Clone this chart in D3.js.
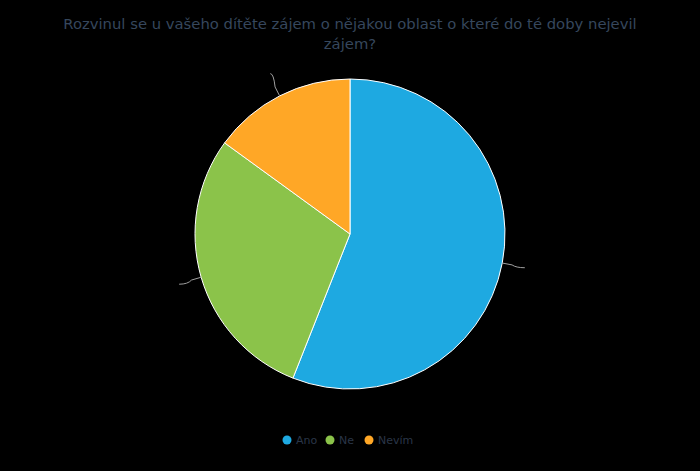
<!DOCTYPE html>
<html>
<head>
<meta charset="utf-8">
<script src="https://cdn.jsdelivr.net/npm/d3@7"></script>
<style>
  html, body { margin: 0; padding: 0; background: #000; }
  svg { display: block; font-family: "DejaVu Sans", sans-serif; }
</style>
</head>
<body>
<svg id="chart" width="700" height="471"></svg>
<script>
// data
var titleLines = ["Rozvinul se u vašeho dítěte zájem o nějakou oblast o které do té doby nejevil", "zájem?"]
var categories = ["Ano", "Ne", "Nevím"]
var values = [56, 29, 15]
var colors = ["#1EA9E1", "#8BC34A", "#FFA726"]

var width = 700, height = 471
var cx = 350, cy = 234, radius = 155

var svg = d3.select("#chart")

svg.append("rect")
  .attr("width", width)
  .attr("height", height)
  .attr("fill", "#000")

// title
svg.selectAll("text.title")
  .data(titleLines)
  .enter()
  .append("text")
    .attr("class", "title")
    .attr("x", width / 2)
    .attr("y", function(d, i){ return 29 + i * 20 })
    .attr("text-anchor", "middle")
    .style("font-size", "14.8px")
    .style("fill", "#36475D")
    .text(function(d){ return d })

var color = d3.scaleOrdinal()
  .domain(categories)
  .range(colors)

var pie = d3.pie()
  .sort(null)
  .value(function(d){ return d.value })

var data = categories.map(function(c, i){ return { name: c, value: values[i] } })
var arcs = pie(data)

var arc = d3.arc()
  .innerRadius(0)
  .outerRadius(radius)

var g = svg.append("g")
  .attr("transform", "translate(" + cx + "," + cy + ")")

g.selectAll("path.slice")
  .data(arcs)
  .enter()
  .append("path")
    .attr("class", "slice")
    .attr("d", arc)
    .attr("fill", function(d){ return color(d.data.name) })
    .attr("stroke", "#fff")
    .attr("stroke-width", 1)

// connectors (labels themselves are not visible in the reference)
function polar(a, r){ return [r * Math.sin(a), -r * Math.cos(a)] }

g.selectAll("path.connector")
  .data(arcs)
  .enter()
  .append("path")
    .attr("class", "connector")
    .attr("fill", "none")
    .attr("stroke", "#a0a0a0")
    .attr("stroke-width", 1)
    .attr("d", function(d){
      var a = (d.startAngle + d.endAngle) / 2
      var side = Math.sin(a) >= 0 ? 1 : -1
      var p0 = polar(a, radius)
      var p1 = polar(a, radius + 10)
      var end = polar(a, radius + 25)
      end[0] = end[0] - side * 2
      var p = d3.path()
      p.moveTo(p0[0], p0[1])
      p.lineTo(p1[0], p1[1])
      p.quadraticCurveTo(p1[0] + (end[0] - p1[0]) * 0.3, end[1], end[0], end[1])
      return p.toString()
    })

// legend
var legendX = [287, 330, 369]
var legend = svg.selectAll("g.legend")
  .data(categories)
  .enter()
  .append("g")
    .attr("class", "legend")
    .attr("transform", function(d, i){ return "translate(" + legendX[i] + ",440)" })

legend.append("circle")
  .attr("r", 4.5)
  .attr("fill", function(d){ return color(d) })

legend.append("text")
  .attr("x", 9)
  .attr("y", 4)
  .style("font-size", "11px")
  .style("fill", "#2A3648")
  .text(function(d){ return d })
</script>
</body>
</html>
